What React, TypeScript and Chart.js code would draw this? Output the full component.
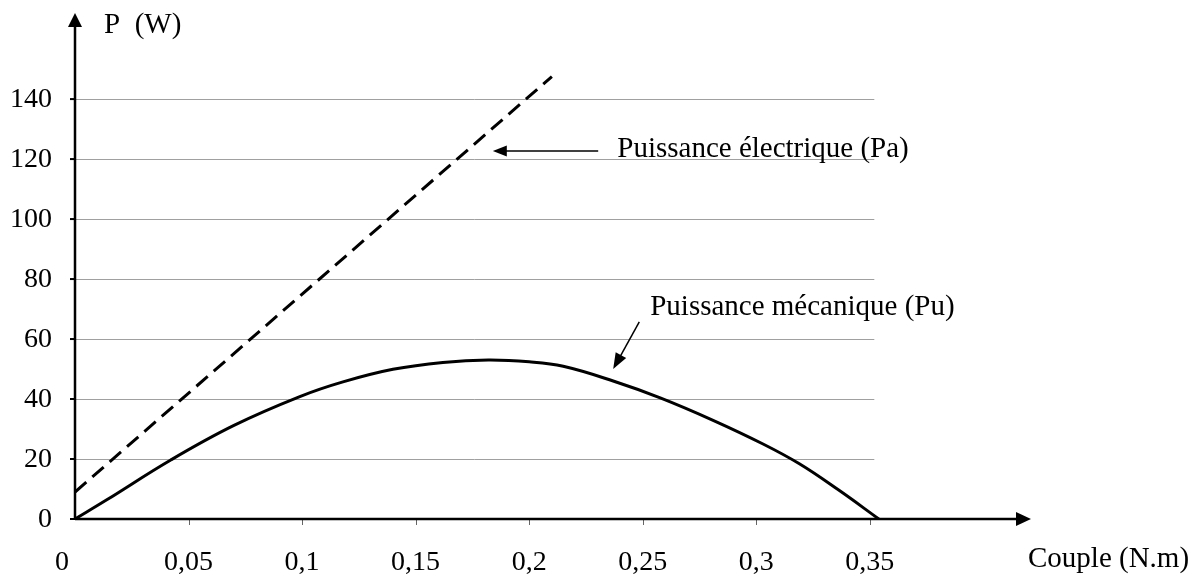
import React, { useEffect, useRef } from "react";
import { Chart, registerables } from "chart.js";

Chart.register(...registerables);

const FONT_FAMILY = '"Liberation Serif", "Times New Roman", serif';
const TICK_FONT = `28px ${FONT_FAMILY}`;
const LABEL_FONT = `29px ${FONT_FAMILY}`;

// Electrical power (dashed straight line)
const PA_COUPLE = [0, 0.21];
const PA_POWER = [9, 147.5];

// Mechanical power (solid curve)
const PU_COUPLE = [0, 0.014, 0.042, 0.07, 0.099, 0.118, 0.14, 0.162, 0.182, 0.2, 0.215, 0.237, 0.258, 0.281, 0.303, 0.319, 0.336, 0.354];
const PU_POWER = [0, 6.4, 19.6, 31.2, 40.8, 45.7, 49.9, 52.2, 53, 52.4, 50.9, 46, 40.3, 32.9, 25, 18.4, 9.8, 0];

const X_TICKS = [0, 0.05, 0.1, 0.15, 0.2, 0.25, 0.3, 0.35];
const X_TICK_LABELS = ["0", "0,05", "0,1", "0,15", "0,2", "0,25", "0,3", "0,35"];
const Y_TICKS = [0, 20, 40, 60, 80, 100, 120, 140];
const Y_TICK_LABELS = ["0", "20", "40", "60", "80", "100", "120", "140"];

const X_MIN = 0;
const X_MAX = 0.421;
const Y_MIN = 0;
const Y_MAX = 168.7;
const GRID_END = 0.352;

const Y_TITLE = "P  (W)";
const X_TITLE = "Couple (N.m)";
const PA_LABEL = "Puissance électrique (Pa)";
const PU_LABEL = "Puissance mécanique (Pu)";

function arrowHead(ctx: CanvasRenderingContext2D, tx: number, ty: number, fx: number, fy: number, len: number, halfW: number) {
  const a = Math.atan2(ty - fy, tx - fx);
  const bx = tx - len * Math.cos(a);
  const by = ty - len * Math.sin(a);
  const px = -Math.sin(a);
  const py = Math.cos(a);
  ctx.beginPath();
  ctx.moveTo(tx, ty);
  ctx.lineTo(bx + halfW * px, by + halfW * py);
  ctx.lineTo(bx - halfW * px, by - halfW * py);
  ctx.closePath();
  ctx.fill();
}

const decorPlugin = {
  id: "decor",
  beforeDatasetsDraw(chart: any) {
    const ctx: CanvasRenderingContext2D = chart.ctx;
    const xs = chart.scales.x;
    const ys = chart.scales.y;
    const x0 = xs.getPixelForValue(0);
    const xEnd = xs.getPixelForValue(GRID_END);
    ctx.save();
    ctx.strokeStyle = "rgba(150,150,150,0.9)";
    ctx.lineWidth = 1;
    for (const t of Y_TICKS) {
      if (t === 0) continue;
      const y = Math.round(ys.getPixelForValue(t)) + 0.5;
      ctx.beginPath();
      ctx.moveTo(x0, y);
      ctx.lineTo(xEnd, y);
      ctx.stroke();
    }
    ctx.restore();
  },
  afterDatasetsDraw(chart: any) {
    const ctx: CanvasRenderingContext2D = chart.ctx;
    const area = chart.chartArea;
    const xs = chart.scales.x;
    const ys = chart.scales.y;
    const x0 = xs.getPixelForValue(0);
    const y0 = ys.getPixelForValue(0);
    ctx.save();

    // small tick marks
    ctx.strokeStyle = "#000";
    ctx.lineWidth = 2;
    for (const t of Y_TICKS) {
      const y = ys.getPixelForValue(t);
      ctx.beginPath();
      ctx.moveTo(x0 - 5, y);
      ctx.lineTo(x0, y);
      ctx.stroke();
    }
    ctx.strokeStyle = "#666";
    ctx.lineWidth = 1;
    for (const t of X_TICKS) {
      if (t === 0) continue;
      const x = Math.round(xs.getPixelForValue(t)) + 0.5;
      ctx.beginPath();
      ctx.moveTo(x, y0);
      ctx.lineTo(x, y0 + 6);
      ctx.stroke();
    }

    // axes
    ctx.strokeStyle = "#000";
    ctx.fillStyle = "#000";
    ctx.lineWidth = 2.5;
    ctx.beginPath();
    ctx.moveTo(x0, y0);
    ctx.lineTo(x0, area.top + 10);
    ctx.stroke();
    arrowHead(ctx, x0, area.top, x0, y0, 14, 7);
    ctx.beginPath();
    ctx.moveTo(x0, y0);
    ctx.lineTo(area.right - 10, y0);
    ctx.stroke();
    arrowHead(ctx, area.right, y0, x0, y0, 15, 7);

    // tick labels
    ctx.font = TICK_FONT;
    ctx.fillStyle = "#000";
    ctx.textBaseline = "alphabetic";
    ctx.textAlign = "right";
    Y_TICKS.forEach((t, i) => {
      ctx.fillText(Y_TICK_LABELS[i], x0 - 23, ys.getPixelForValue(t) + 8);
    });
    X_TICKS.forEach((t, i) => {
      const x = xs.getPixelForValue(t);
      if (t === 0) {
        ctx.textAlign = "right";
        ctx.fillText(X_TICK_LABELS[i], x - 6, y0 + 51);
      } else {
        ctx.textAlign = "center";
        ctx.fillText(X_TICK_LABELS[i], x, y0 + 51);
      }
    });

    // axis titles
    ctx.font = LABEL_FONT;
    ctx.textAlign = "left";
    ctx.fillText(Y_TITLE, x0 + 29, area.top + 20);
    ctx.fillText(X_TITLE, area.right - 3, y0 + 48);

    // annotations
    ctx.lineWidth = 1.5;
    const a1tip = [xs.getPixelForValue(0.184), ys.getPixelForValue(122.7)];
    const a1tail = [xs.getPixelForValue(0.2304), ys.getPixelForValue(122.7)];
    ctx.beginPath();
    ctx.moveTo(a1tail[0], a1tail[1]);
    ctx.lineTo(a1tip[0] + 8, a1tip[1]);
    ctx.stroke();
    arrowHead(ctx, a1tip[0], a1tip[1], a1tail[0], a1tail[1], 14, 5.5);
    ctx.fillText(PA_LABEL, xs.getPixelForValue(0.2388), ys.getPixelForValue(120.7));

    const a2tip = [xs.getPixelForValue(0.237), ys.getPixelForValue(50)];
    const a2tail = [xs.getPixelForValue(0.2485), ys.getPixelForValue(65.7)];
    const ang = Math.atan2(a2tip[1] - a2tail[1], a2tip[0] - a2tail[0]);
    ctx.beginPath();
    ctx.moveTo(a2tail[0], a2tail[1]);
    ctx.lineTo(a2tip[0] - 10 * Math.cos(ang), a2tip[1] - 10 * Math.sin(ang));
    ctx.stroke();
    arrowHead(ctx, a2tip[0], a2tip[1], a2tail[0], a2tail[1], 16, 6);
    ctx.fillText(PU_LABEL, xs.getPixelForValue(0.2533), ys.getPixelForValue(68));

    ctx.restore();
  },
};

export default function App() {
  const ref = useRef<HTMLCanvasElement | null>(null);

  useEffect(() => {
    if (!ref.current) return;
    const chart = new Chart(ref.current, {
      type: "line",
      data: {
        datasets: [
          {
            label: "Pu",
            data: PU_COUPLE.map((x, i) => ({ x, y: PU_POWER[i] })),
            borderColor: "#000",
            borderWidth: 3,
            pointRadius: 0,
            tension: 0.4,
            fill: false,
          },
          {
            label: "Pa",
            data: PA_COUPLE.map((x, i) => ({ x, y: PA_POWER[i] })),
            borderColor: "#000",
            borderWidth: 3,
            borderDash: [15, 8],
            pointRadius: 0,
            fill: false,
          },
        ],
      },
      options: {
        responsive: false,
        animation: false,
        layout: { padding: { left: 75, right: 170, top: 13, bottom: 59 } },
        plugins: { legend: { display: false }, tooltip: { enabled: false } },
        scales: {
          x: { type: "linear", min: X_MIN, max: X_MAX, display: false },
          y: { type: "linear", min: Y_MIN, max: Y_MAX, display: false },
        },
      } as any,
      plugins: [decorPlugin],
    });
    return () => chart.destroy();
  }, []);

  return (
    <div style={{ position: "fixed", left: 0, top: 0, width: 1201, height: 578, background: "#fff" }}>
      <canvas ref={ref} width={1201} height={578} style={{ display: "block" }} />
    </div>
  );
}
